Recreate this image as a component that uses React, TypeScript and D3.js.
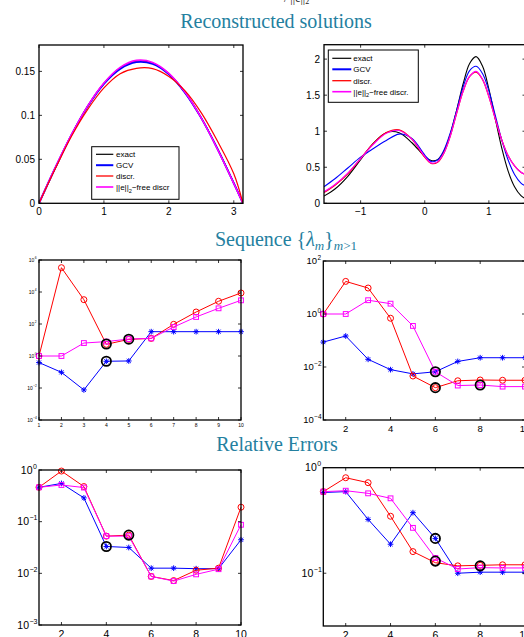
import React from 'react';
import * as d3 from 'd3';

const W = 524;
const H = 637;
const TEAL = '#24809f';
const SANS = '"Liberation Sans", Arial, sans-serif';
const SERIF = '"Liberation Serif", "DejaVu Serif", serif';

// ---------- Top-left: reconstructed solutions ----------
const tlX = [0, 0.25, 0.5, 0.75, 1.0, 1.25, 1.5, 1.75, 2.0, 2.25, 2.5, 2.75, 3.0, 3.1416];
const tlExact = [0, 0.04, 0.0777, 0.1104, 0.1363, 0.1537, 0.1616, 0.1594, 0.1473, 0.1259, 0.097, 0.0619, 0.0229, 0];
const tlGCV = [0, 0.0402, 0.0778, 0.1102, 0.1358, 0.1528, 0.1605, 0.1585, 0.1467, 0.1256, 0.0968, 0.0617, 0.0228, 0];
const tlDiscr = [0, 0.0392, 0.0762, 0.1068, 0.1312, 0.1474, 0.1535, 0.1532, 0.1443, 0.1278, 0.1028, 0.0705, 0.0335, 0];
const tlFree = [0, 0.0405, 0.078, 0.1108, 0.1368, 0.1545, 0.1625, 0.1602, 0.1478, 0.1262, 0.0968, 0.0613, 0.0224, 0];

// ---------- Top-right ----------
const trX = [-1.5708, -1.4, -1.2, -1.0, -0.8, -0.6, -0.4, -0.2, 0, 0.1, 0.2, 0.3, 0.4, 0.5, 0.6, 0.7, 0.8, 0.9, 1.0, 1.1, 1.2, 1.3, 1.4, 1.5, 1.5708];
const trExact = [0.1, 0.198, 0.375, 0.607, 0.835, 0.98, 0.98, 0.84, 0.65, 0.593, 0.606, 0.724, 0.964, 1.3, 1.662, 1.94, 2.034, 1.904, 1.584, 1.171, 0.769, 0.447, 0.231, 0.106, 0.065];
const trGCV = [0.23, 0.34, 0.49, 0.64, 0.76, 0.87, 0.96, 0.9, 0.67, 0.58, 0.6, 0.74, 0.98, 1.3, 1.62, 1.84, 1.9, 1.8, 1.56, 1.22, 0.88, 0.6, 0.4, 0.28, 0.24];
const trDiscr = [0.15, 0.25, 0.41, 0.62, 0.83, 0.98, 1.02, 0.89, 0.64, 0.555, 0.57, 0.7, 0.94, 1.26, 1.56, 1.76, 1.82, 1.72, 1.48, 1.17, 0.88, 0.66, 0.52, 0.43, 0.4];
const trFree = [0.16, 0.26, 0.42, 0.62, 0.82, 0.97, 1.01, 0.89, 0.65, 0.56, 0.575, 0.7, 0.94, 1.26, 1.56, 1.76, 1.83, 1.72, 1.48, 1.17, 0.88, 0.66, 0.52, 0.43, 0.4];

// ---------- Sequence {lambda_m} (log10 values) ----------
const mIdx = [1, 2, 3, 4, 5, 6, 7, 8, 9, 10];
const mlGCV = [-0.41, -1.02, -2.12, -0.33, -0.31, 1.52, 1.52, 1.52, 1.52, 1.52];
const mlDiscr = [0, 5.52, 3.52, 0.73, 1.04, 1.1, 1.98, 2.75, 3.42, 3.94];
const mlFree = [0, 0, 0.81, 0.9, 1.06, 1.1, 1.81, 2.44, 2.98, 3.48];
const mlMarked = [[4, -0.33], [4, 0.75], [5, 1.05]];

const mrGCV = [-1.06, -0.83, -1.71, -2.1, -2.26, -2.18, -1.79, -1.65, -1.65, -1.65];
const mrDiscr = [0, 1.23, 0.98, -0.16, -2.34, -2.78, -2.52, -2.49, -2.5, -2.5];
const mrFree = [0, 0, 0.52, 0.39, -0.45, -2.18, -2.7, -2.68, -2.74, -2.74];
const mrMarked = [[6, -2.18], [6, -2.78], [8, -2.68]];

// ---------- Relative errors (log10 values) ----------
const blGCV = [-0.335, -0.26, -0.54, -1.48, -1.5, -1.9, -1.9, -1.91, -1.91, -1.35];
const blDiscr = [-0.335, -0.02, -0.32, -1.28, -1.26, -2.06, -2.14, -1.94, -1.9, -0.72];
const blFree = [-0.335, -0.29, -0.34, -1.28, -1.28, -2.06, -2.15, -2.02, -1.92, -1.06];
const blMarked = [[4, -1.48], [5, -1.26]];

const brGCV = [-0.235, -0.227, -0.49, -0.725, -0.426, -0.67, -1.0, -0.99, -0.99, -0.99];
const brDiscr = [-0.227, -0.095, -0.142, -0.46, -0.795, -0.9, -0.93, -0.925, -0.92, -0.92];
const brFree = [-0.227, -0.218, -0.243, -0.29, -0.57, -0.855, -0.96, -0.947, -0.95, -0.95];
const brMarked = [[6, -0.67], [6, -0.885], [8, -0.93]];

const legendTL = ['exact', 'GCV', 'discr.', 'free discr'];
const legendTR = ['exact', 'GCV', 'discr.', 'free discr.'];

const BLUE = '#0000ff';
const RED = '#ff0000';
const MAG = '#ff00ff';

type Box = { x0: number; x1: number; y0: number; y1: number };

function Frame({ b, xs, ys, xt, yt }: { b: Box; xs: any; ys: any; xt: number[]; yt: number[] }) {
  const tl = 3;
  return (
    <g>
      {xt.map((t, i) => (
        <g key={'x' + i}>
          <line x1={xs(t)} x2={xs(t)} y1={b.y1} y2={b.y1 - tl} stroke="#000" strokeWidth={0.8} />
          <line x1={xs(t)} x2={xs(t)} y1={b.y0} y2={b.y0 + tl} stroke="#000" strokeWidth={0.8} />
        </g>
      ))}
      {yt.map((t, i) => (
        <g key={'y' + i}>
          <line x1={b.x0} x2={b.x0 + tl} y1={ys(t)} y2={ys(t)} stroke="#000" strokeWidth={0.8} />
          <line x1={b.x1} x2={b.x1 - tl} y1={ys(t)} y2={ys(t)} stroke="#000" strokeWidth={0.8} />
        </g>
      ))}
      <rect x={b.x0} y={b.y0} width={b.x1 - b.x0} height={b.y1 - b.y0} fill="none" stroke="#000" strokeWidth={1.3} />
    </g>
  );
}

function Asterisk({ x, y, s, c }: { x: number; y: number; s: number; c: string }) {
  const d = s * 0.72;
  return (
    <g stroke={c} strokeWidth={1}>
      <line x1={x - s} x2={x + s} y1={y} y2={y} />
      <line x1={x} x2={x} y1={y - s} y2={y + s} />
      <line x1={x - d} x2={x + d} y1={y - d} y2={y + d} />
      <line x1={x - d} x2={x + d} y1={y + d} y2={y - d} />
    </g>
  );
}

function CurvePanel({ b, xDom, yDom, xv, series, xt, yt, xLabels, yLabels, fs }: any) {
  const xs = d3.scaleLinear().domain(xDom).range([b.x0, b.x1]);
  const ys = d3.scaleLinear().domain(yDom).range([b.y1, b.y0]);
  const line = d3.line<number>().x((_, i) => xs(xv[i])).y((d) => ys(d)).curve(d3.curveCatmullRom.alpha(0.5));
  return (
    <g>
      <defs>
        <clipPath id={'c' + b.x0 + b.y0}>
          <rect x={b.x0} y={b.y0} width={b.x1 - b.x0} height={b.y1 - b.y0} />
        </clipPath>
      </defs>
      <g clipPath={`url(#c${b.x0}${b.y0})`}>
        {series.map((s: any, i: number) => (
          <path key={i} d={line(s.v) || ''} fill="none" stroke={s.c} strokeWidth={s.w} />
        ))}
      </g>
      <Frame b={b} xs={xs} ys={ys} xt={xt} yt={yt} />
      {xt.map((t: number, i: number) => (
        <text key={'xl' + i} x={xs(t)} y={b.y1 + 12} fontSize={fs} fontFamily={SANS} textAnchor="middle">{xLabels[i]}</text>
      ))}
      {yt.map((t: number, i: number) => (
        <text key={'yl' + i} x={b.x0 - 4} y={ys(t) + fs * 0.36} fontSize={fs} fontFamily={SANS} textAnchor="end">{yLabels[i]}</text>
      ))}
    </g>
  );
}

function LogPanel({ b, yDom, xt, yt, gcv, discr, free, marked, fs, efs, xOff, ms }: any) {
  const xs = d3.scaleLinear().domain([1, 10]).range([b.x0, b.x1]);
  const ys = d3.scaleLog().domain(yDom).range([b.y1, b.y0]);
  const mk = (arr: number[]) => arr.map((e, i) => [mIdx[i], Math.pow(10, e)] as [number, number]);
  const line = d3.line<[number, number]>().x((d) => xs(d[0])).y((d) => ys(d[1]));
  const g = mk(gcv), r = mk(discr), f = mk(free);
  const sq = ms * 1.6;
  return (
    <g>
      <path d={line(g) || ''} fill="none" stroke={BLUE} strokeWidth={1} />
      {g.map((d, i) => <Asterisk key={'g' + i} x={xs(d[0])} y={ys(d[1])} s={ms * 0.95} c={BLUE} />)}
      <path d={line(r) || ''} fill="none" stroke={RED} strokeWidth={1} />
      {r.map((d, i) => <circle key={'r' + i} cx={xs(d[0])} cy={ys(d[1])} r={ms} fill="none" stroke={RED} strokeWidth={1} />)}
      <path d={line(f) || ''} fill="none" stroke={MAG} strokeWidth={1} />
      {f.map((d, i) => <rect key={'f' + i} x={xs(d[0]) - sq / 2} y={ys(d[1]) - sq / 2} width={sq} height={sq} fill="none" stroke={MAG} strokeWidth={1} />)}
      {marked.map((d: number[], i: number) => (
        <circle key={'k' + i} cx={xs(d[0])} cy={ys(Math.pow(10, d[1]))} r={ms * 1.55} fill="none" stroke="#000" strokeWidth={1.8} />
      ))}
      <Frame b={b} xs={xs} ys={ys} xt={xt} yt={yt} />
      {xt.map((t: number, i: number) => (
        <text key={'xl' + i} x={xs(t)} y={b.y1 + xOff} fontSize={fs} fontFamily={SANS} textAnchor="middle">{t}</text>
      ))}
      {yt.map((t: number, i: number) => {
        const e = Math.round(Math.log10(t));
        return (
          <text key={'yl' + i} x={b.x0 - 3 - (String(e).length) * efs * 0.5} y={ys(t) + fs * 0.36} fontSize={fs} fontFamily={SANS} textAnchor="end">
            10
            <tspan x={b.x0 - 3 - (String(e).length) * efs * 0.5 + 0.5} textAnchor="start" dy={-fs * 0.5} fontSize={efs}>{e < 0 ? '\u2212' + (-e) : e}</tspan>
          </text>
        );
      })}
    </g>
  );
}

function Legend({ x, y, w, h, rows, labels, lx0, lx1, tx, fs }: any) {
  const cols = ['#000000', BLUE, RED, MAG];
  const widths = [1.2, 2, 1.3, 1.6];
  return (
    <g>
      <rect x={x} y={y} width={w} height={h} fill="#fff" stroke="#000" strokeWidth={1} />
      {rows.map((ry: number, i: number) => (
        <g key={i}>
          <line x1={lx0} x2={lx1} y1={ry} y2={ry} stroke={cols[i]} strokeWidth={widths[i]} />
          {i < 3 ? (
            <text x={tx} y={ry + fs * 0.35} fontSize={fs} fontFamily={SANS}>{labels[i]}</text>
          ) : (
            <text x={tx} y={ry + fs * 0.35} fontSize={fs} fontFamily={SANS}>
              ||e||<tspan dy={fs * 0.35} fontSize={fs * 0.7}>2</tspan><tspan dy={-fs * 0.35}>{'\u2212' + labels[i]}</tspan>
            </text>
          )}
        </g>
      ))}
    </g>
  );
}

export default function App() {
  const tl: Box = { x0: 39, x1: 243, y0: 45, y1: 203.3 };
  const tr: Box = { x0: 324, x1: 525.5, y0: 44.7, y1: 203.3 };
  const ml: Box = { x0: 39, x1: 241, y0: 260, y1: 420 };
  const mr: Box = { x0: 323.3, x1: 525, y0: 261, y1: 420 };
  const bl: Box = { x0: 39, x1: 241, y0: 470, y1: 625 };
  const br: Box = { x0: 323.3, x1: 525, y0: 467.7, y1: 626 };

  return (
    <svg width={W} height={H} style={{ position: 'absolute', left: 0, top: 0, background: '#fff' }}>
      <rect width={W} height={H} fill="#fff" />
      <text x={284} y={1.5} fontSize={12} fontFamily={SERIF} fill="#222">/ ||e||<tspan fontSize={8} dy={2}>2</tspan></text>
      <text x={276} y={28} fontSize={20} fontFamily={SERIF} fill={TEAL} textAnchor="middle">Reconstructed solutions</text>
      <text x={286} y={246} fontSize={20} fontFamily={SERIF} fill={TEAL} textAnchor="middle">
        Sequence {'{'}<tspan fontStyle="italic">λ</tspan><tspan fontStyle="italic" fontSize={13} dy={4}>m</tspan><tspan dy={-4}>{'}'}</tspan><tspan fontStyle="italic" fontSize={13} dy={4}>m</tspan><tspan fontSize={13}>{'>1'}</tspan>
      </text>
      <text x={277} y={451} fontSize={20} fontFamily={SERIF} fill={TEAL} textAnchor="middle">Relative Errors</text>

      <CurvePanel
        b={tl} xDom={[0, Math.PI]} yDom={[0, 0.18]} xv={tlX}
        series={[
          { v: tlExact, c: '#000', w: 1.3 },
          { v: tlGCV, c: BLUE, w: 1.8 },
          { v: tlFree, c: MAG, w: 1.6 },
          { v: tlDiscr, c: RED, w: 1.2 },
        ]}
        xt={[0, 1, 2, 3]} yt={[0, 0.05, 0.1, 0.15]}
        xLabels={['0', '1', '2', '3']} yLabels={['0', '0.05', '0.1', '0.15']} fs={10}
      />
      <Legend x={91.7} y={146.7} w={87.3} h={52.6} rows={[154.3, 165.2, 176, 187]} labels={legendTL} lx0={96} lx1={113.3} tx={116} fs={8} />

      <CurvePanel
        b={tr} xDom={[-Math.PI / 2, Math.PI / 2]} yDom={[0, 2.2]} xv={trX}
        series={[
          { v: trExact, c: '#000', w: 1.1 },
          { v: trGCV, c: BLUE, w: 1.1 },
          { v: trDiscr, c: RED, w: 1.3 },
          { v: trFree, c: MAG, w: 1.1 },
        ]}
        xt={[-1, 0, 1]} yt={[0, 0.5, 1, 1.5, 2]}
        xLabels={['\u22121', '0', '1']} yLabels={['0', '0.5', '1', '1.5', '2']} fs={10}
      />
      <Legend x={328.3} y={50} w={90} h={52.3} rows={[58.3, 69.3, 80.7, 91.7]} labels={legendTR} lx0={332.3} lx1={351.3} tx={353.3} fs={8} />

      <LogPanel b={ml} yDom={[1e-4, 1e6]} xt={mIdx} yt={[1e-4, 1e-2, 1, 1e2, 1e4, 1e6]}
        gcv={mlGCV} discr={mlDiscr} free={mlFree} marked={mlMarked} fs={5} efs={3.3} xOff={7} ms={3} />
      <LogPanel b={mr} yDom={[1e-4, 1e2]} xt={[2, 4, 6, 8, 10]} yt={[1e-4, 1e-2, 1, 1e2]}
        gcv={mrGCV} discr={mrDiscr} free={mrFree} marked={mrMarked} fs={9.5} efs={6.5} xOff={12} ms={3} />
      <LogPanel b={bl} yDom={[1e-3, 1]} xt={[2, 4, 6, 8, 10]} yt={[1e-3, 1e-2, 1e-1, 1]}
        gcv={blGCV} discr={blDiscr} free={blFree} marked={blMarked} fs={10.5} efs={7} xOff={13} ms={3} />
      <LogPanel b={br} yDom={[Math.pow(10, -1.5), 1]} xt={[2, 4, 6, 8, 10]} yt={[1e-1, 1]}
        gcv={brGCV} discr={brDiscr} free={brFree} marked={brMarked} fs={10.5} efs={7} xOff={13} ms={3} />
    </svg>
  );
}
